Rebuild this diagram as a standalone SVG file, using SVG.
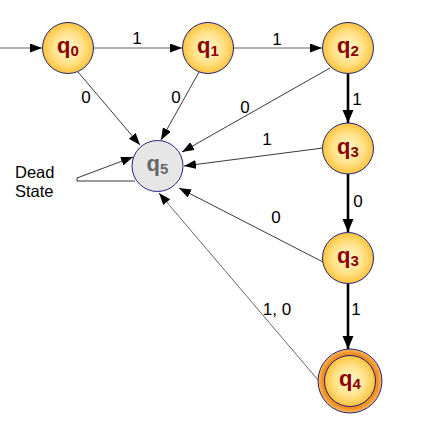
<svg xmlns="http://www.w3.org/2000/svg" width="426" height="440" viewBox="0 0 426 440">
<style>
.lbl{font-family:"Liberation Sans",Arial,sans-serif;font-size:17px;fill:#000;text-anchor:middle}
.dead{font-family:"Liberation Sans",Arial,sans-serif;font-size:16.5px;fill:#000}
.st{font-family:"Liberation Sans",Arial,sans-serif;font-weight:bold;fill:#8b0000}
.st5{font-family:"Liberation Sans",Arial,sans-serif;font-weight:bold;fill:#666}
.node{fill:url(#yel);stroke:#22227a;stroke-width:1}
.gray{stroke:#999;stroke-width:1.6;fill:none}
.thin{stroke:#222;stroke-width:0.9;fill:none}
.thick{stroke:#000;stroke-width:2.6;fill:none}
</style>
<defs>
<radialGradient id="yel" cx="50%" cy="50%" r="50%">
<stop offset="0" stop-color="#fff8d0"/>
<stop offset="0.6" stop-color="#ffe28a"/>
<stop offset="1" stop-color="#fcc43c"/>
</radialGradient>
<radialGradient id="org" cx="50%" cy="50%" r="50%">
<stop offset="0.78" stop-color="#ec7e14"/>
<stop offset="0.9" stop-color="#f39a30"/>
<stop offset="1" stop-color="#fbbe68"/>
</radialGradient>
<marker id="ah" markerUnits="userSpaceOnUse" markerWidth="13" markerHeight="10" refX="12" refY="4.5" orient="auto">
<path d="M0,0 L12,4.5 L0,9 z" fill="#000"/>
</marker>
<marker id="ahb" markerUnits="userSpaceOnUse" markerWidth="14" markerHeight="12" refX="13" refY="5.5" orient="auto">
<path d="M0,0 L13,5.5 L0,11 z" fill="#000"/>
</marker>
</defs>

<g id="connectors">
<line class="gray" x1="0" y1="48" x2="42" y2="48" marker-end="url(#ah)"/>
<line class="gray" x1="94" y1="48" x2="182" y2="48" marker-end="url(#ah)"/>
<line class="gray" x1="234" y1="48" x2="322" y2="48" marker-end="url(#ah)"/>
<line class="thick" x1="348" y1="74" x2="348" y2="123" marker-end="url(#ahb)"/>
<line class="thick" x1="348" y1="174" x2="348" y2="232" marker-end="url(#ahb)"/>
<line class="thick" x1="348" y1="284" x2="348" y2="349" marker-end="url(#ahb)"/>
<line class="thin" x1="78" y1="72" x2="140" y2="145" marker-end="url(#ah)"/>
<line class="thin" x1="199" y1="72" x2="161" y2="140" marker-end="url(#ah)"/>
<line class="thin" x1="330" y1="68" x2="182" y2="152" marker-end="url(#ah)"/>
<line class="thin" x1="323" y1="148" x2="184" y2="166" marker-end="url(#ah)"/>
<line class="thin" x1="323" y1="262" x2="179" y2="188" marker-end="url(#ah)"/>
<line class="thin" x1="318" y1="380" x2="159" y2="193" marker-end="url(#ah)" style="stroke:#555"/>
<path class="thin" d="M135,181 L77,181 L77,178 L133,157" marker-end="url(#ah)"/>
<text class="lbl" x="137" y="44">1</text>
<text class="lbl" x="277" y="45">1</text>
<text class="lbl" x="357" y="105">1</text>
<text class="lbl" x="358" y="207">0</text>
<text class="lbl" x="356" y="315">1</text>
<text class="lbl" x="86" y="103">0</text>
<text class="lbl" x="176" y="103">0</text>
<text class="lbl" x="245" y="113">0</text>
<text class="lbl" x="267" y="145">1</text>
<text class="lbl" x="276" y="223">0</text>
<text class="lbl" x="277" y="315">1, 0</text>
<text class="dead" x="15" y="178">Dead</text>
<text class="dead" x="15" y="197">State</text>
</g>

<g id="q0">
<circle class="node" cx="68" cy="48" r="25.5"/>
<text class="st" x="57" y="53" font-size="22">q<tspan font-size="15" dy="3">0</tspan></text>
</g>
<g id="q1">
<circle class="node" cx="208" cy="48" r="25.5"/>
<text class="st" x="197" y="53" font-size="22">q<tspan font-size="15" dy="3">1</tspan></text>
</g>
<g id="q2">
<circle class="node" cx="348" cy="48" r="25.5"/>
<text class="st" x="337" y="53" font-size="22">q<tspan font-size="15" dy="3">2</tspan></text>
</g>
<g id="q3a">
<circle class="node" cx="348" cy="148.5" r="25.5"/>
<text class="st" x="337" y="153.5" font-size="22">q<tspan font-size="15" dy="3">3</tspan></text>
</g>
<g id="q3b">
<circle class="node" cx="348" cy="258" r="25.5"/>
<text class="st" x="337" y="263" font-size="22">q<tspan font-size="15" dy="3">3</tspan></text>
</g>
<g id="q4">
<circle cx="350" cy="381" r="32" fill="url(#org)" stroke="#22227a" stroke-width="1"/>
<circle class="node" cx="350" cy="381" r="25.5"/>
<text class="st" x="339" y="386" font-size="22">q<tspan font-size="15" dy="3">4</tspan></text>
</g>
<g id="q5">
<circle cx="157.5" cy="166" r="25.5" fill="#e6e6e6" stroke="#22227a" stroke-width="1"/>
<text class="st5" x="146.5" y="171" font-size="22">q<tspan font-size="15" dy="3">5</tspan></text>
</g>
</svg>
